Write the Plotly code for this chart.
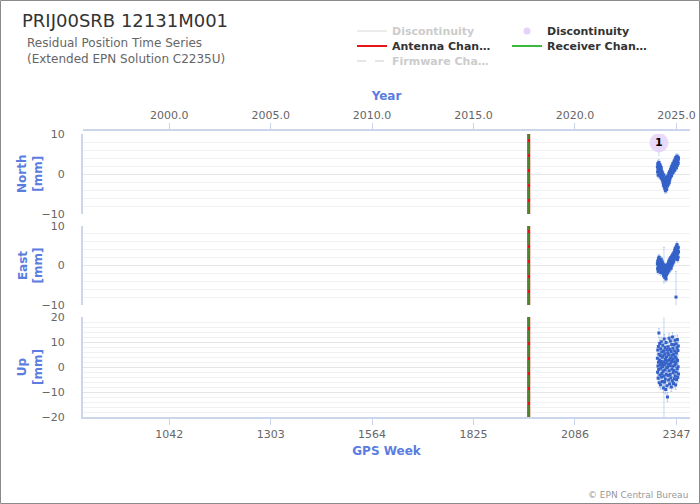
import plotly.graph_objects as go

# ---------------- data ----------------
gps_week_ticks = [1042, 1303, 1564, 1825, 2086, 2347]
year_tick_labels = ["2000.0", "2005.0", "2010.0", "2015.0", "2020.0", "2025.0"]

obs_weeks = [
    2298.0, 2298.5, 2299.0, 2299.5, 2300.0, 2300.5, 2301.0, 2301.5, 2302.0, 2302.5,
    2303.0, 2303.5, 2304.0, 2304.5, 2305.0, 2305.5, 2306.0, 2306.5, 2307.0, 2307.5,
    2308.0, 2308.5, 2309.0, 2309.5, 2310.0, 2310.5, 2311.0, 2311.5, 2312.0, 2312.5,
    2313.0, 2313.5, 2314.0, 2314.5, 2315.0, 2315.5, 2316.0, 2316.5, 2317.0, 2317.5,
    2318.0, 2318.5, 2319.0, 2319.5, 2320.0, 2320.5, 2321.0, 2321.5, 2322.0, 2322.5,
    2323.0, 2323.5, 2324.0, 2324.5, 2325.0, 2325.5, 2326.0, 2326.5, 2327.0, 2327.5,
    2328.0, 2328.5, 2329.0, 2329.5, 2330.0, 2330.5, 2331.0, 2331.5, 2332.0, 2332.5,
    2333.0, 2333.5, 2334.0, 2334.5, 2335.0, 2335.5, 2336.0, 2336.5, 2337.0, 2337.5,
    2338.0, 2338.5, 2339.0, 2339.5, 2340.0, 2340.5, 2341.0, 2341.5, 2342.0, 2342.5,
    2343.0, 2343.5, 2344.0, 2344.5, 2345.0, 2345.5, 2346.0, 2346.5, 2347.0, 2347.5,
    2348.0, 2348.5, 2349.0, 2349.5, 2350.0, 2350.5, 2351.0, 2351.5, 2352.0, 2352.5,
]

north_mm = [
    1.8, 0.5, 2.6, 1.2, -0.3, 2.1, 1.5, 0.8, 2.9, 1.0, 0.2, 1.7, 2.4, -0.5, 1.3,
    0.6, 2.0, 1.1, -0.8, 0.9, 1.6, 0.1, -1.2, 0.7, -0.4,
    -0.9, 0.3, -1.5, -0.6, -2.1, -1.0, -2.8, -1.7, -0.2, -2.4, -3.1, -1.3, -2.0, -3.6, -2.5,
    -1.1, -4.2, -2.9, -1.8, -3.3, -2.2, -0.8, -2.7, -3.9, -1.6, -2.3, -1.0, -3.0, -1.9, -0.5,
    -1.4, -2.6, -0.7, -1.8, 0.2, -1.1, -2.2, -0.3, 0.6, -1.5, -0.9, 0.4, -0.2, 1.1, -0.6,
    0.8, 1.5, 0.1, -0.4, 1.9, 0.7, 1.3, 2.2, 0.3, 1.0, 2.6, 1.6, 0.5, 2.0, 1.2,
    2.8, 1.7, 3.3, 2.1, 0.9, 3.0, 2.5, 3.8, 1.8, 2.9, 4.1, 2.4, 3.5, 1.5, 3.1,
    4.4, 2.7, 3.6, 2.2, 3.9, 4.2, 3.0, 2.6, 3.7, 4.0,
]

east_mm = [
    0.5, -0.8, 1.2, 0.1, -1.5, 0.9, 1.8, -0.4, 0.3, 2.1, -1.1, 0.7, -0.2, 1.4, -0.9,
    0.4, 1.0, -1.8, 0.2, 1.6, -0.6, 0.8, -1.3, 0.0, 1.1,
    -0.5, 0.6, -1.4, -0.2, -2.0, 0.3, -1.0, -2.6, -0.7, 0.1, -1.7, -2.2, -0.4, -3.0, -1.2,
    0.0, -1.9, -2.8, -0.9, -1.5, -3.4, -0.3, -2.4, -1.1, -0.6, -2.0, -1.3, 0.2, -1.7, -0.8,
    -1.0, 0.4, -0.5, 0.9, -1.4, 0.2, 1.3, -0.2, 0.7, -0.9, 1.6, 0.3, -0.4, 1.1, 2.0,
    0.5, -0.7, 1.4, 0.8, 2.3, 0.0, 1.7, 1.0, 2.6, 0.6, 1.9, 2.9, 1.2, 2.2, 0.9,
    2.5, 3.3, 1.6, 2.8, 3.9, 2.0, 3.1, 4.4, 2.6, 3.6, 1.8, -8.0, 3.0, 4.8, 2.3,
    3.4, 5.3, 2.9, 3.8, 1.5, 4.2, 3.2, 2.1, 4.6, 3.5,
]

up_mm = [
    3.5, -2.1, 6.8, 0.4, -4.5, 8.2, 1.9, -1.0, 13.6, 5.1, -6.3, 2.7, 9.4, -3.2, 0.8,
    4.6, -7.1, 7.3, -0.5, 2.2, 10.1, -4.0, 1.3, 6.0, -2.6,
    3.9, -5.8, 0.2, 8.7, -1.7, 4.4, -8.4, 2.0, 6.5, -3.7, 11.2, 0.9, -6.0, 5.3, -1.2,
    7.8, -4.9, 3.0, -9.0, 1.6, 9.8, -2.9, 4.1, -0.3, 6.9, -7.5, 2.5, -12.0, 0.0, 5.7,
    -3.4, 8.1, 1.1, -5.2, 4.8, 11.5, -1.5, 2.9, -6.8, 7.0, 0.6, -3.0, 10.4, 3.6, -4.3,
    1.8, 6.2, -8.0, 2.4, 9.0, -0.9, 4.7, -5.5, 12.0, 0.3, 7.5, -2.3, 3.3, -6.6, 5.0,
    -1.4, 8.9, 2.1, -4.7, 6.4, 0.7, 10.7, -3.6, 4.0, -7.2, 1.5, 9.3, -2.0, 5.6, -5.0,
    3.1, 7.7, -0.6, 11.0, 2.6, -4.1, 6.6, 0.1, 8.4, -2.8,
]

# formal errors (mm); a few epochs with large uncertainty
north_sigma = [0.7] * len(obs_weeks)
east_sigma = [0.7] * len(obs_weeks)
up_sigma = [1.8] * len(obs_weeks)
east_sigma[34] = 4.5
east_sigma[96] = 6.5
up_sigma[34] = 24.0

discontinuity_weeks = [2302.0]
discontinuity_north = [7.8]
discontinuity_labels = ["1"]

equipment_change_week = 1967.0

panel_ranges = {"North": [-10, 10], "East": [-10, 10], "Up": [-20, 20]}
x_range = [820, 2382]

# ---------------- layout helpers (pixel -> paper) ----------------
W, H = 700, 504
ML, MR, MT, MB = 83, 10, 130, 87
PW, PH = W - ML - MR, H - MT - MB


def px2x(px):
    return (px - ML) / PW


def py2y(py):
    return (H - MB - py) / PH


FONT = "DejaVu Sans"
BLUE_TITLE = "#5a7ddf"
AXIS_LINE = "#ccd6eb"
PT_COLOR = "#3562c8"
ERR_COLOR = "rgba(110,150,225,0.40)"

panel_px = {"North": (134, 214), "East": (226, 305), "Up": (317, 417)}

fig = go.Figure()

panels = [("North", north_mm, north_sigma, "y"),
          ("East", east_mm, east_sigma, "y2"),
          ("Up", up_mm, up_sigma, "y3")]

for name, vals, sig, yax in panels:
    fig.add_trace(go.Scatter(
        x=obs_weeks, y=vals, mode="markers", xaxis="x", yaxis=yax,
        marker=dict(symbol="square", size=3, color=PT_COLOR),
        error_y=dict(type="data", array=sig, color=ERR_COLOR, thickness=1, width=1),
        showlegend=False, hoverinfo="skip"))
    lo, hi = panel_ranges[name]
    # antenna change (red solid) and receiver change (green dashed)
    fig.add_trace(go.Scatter(
        x=[equipment_change_week, equipment_change_week], y=[lo, hi], mode="lines",
        xaxis="x", yaxis=yax, line=dict(color="#e8141c", width=3),
        showlegend=False, hoverinfo="skip"))
    fig.add_trace(go.Scatter(
        x=[equipment_change_week, equipment_change_week], y=[lo, hi], mode="lines",
        xaxis="x", yaxis=yax, line=dict(color="#4a8a2a", width=2, dash="12px,3px"),
        showlegend=False, hoverinfo="skip"))

# discontinuity marker
fig.add_trace(go.Scatter(
    x=discontinuity_weeks, y=discontinuity_north, mode="markers+text",
    text=discontinuity_labels, textposition="middle center",
    textfont=dict(family=FONT, size=11, color="#000000", weight="bold"),
    xaxis="x", yaxis="y",
    marker=dict(size=19, color="rgba(226,205,250,0.75)", line=dict(width=0)),
    error_y=dict(type="data", symmetric=False, array=[0], arrayminus=[3.3],
                 color=ERR_COLOR, thickness=1, width=0),
    showlegend=False, hoverinfo="skip"))

# dummy trace for top year axis
fig.add_trace(go.Scatter(x=[None], y=[None], xaxis="x2", yaxis="y",
                         showlegend=False, hoverinfo="skip"))

# legend entries (three rows -> three legends)
grey = "#cccccc"
fig.add_trace(go.Scatter(x=[None], y=[None], mode="lines", xaxis="x", yaxis="y",
                         name=f"<span style='color:{grey}'>Discontinuity</span>",
                         line=dict(color="#ececec", width=2), legend="legend"))
fig.add_trace(go.Scatter(x=[None], y=[None], mode="markers", xaxis="x", yaxis="y",
                         name="Discontinuity", legend="legend",
                         marker=dict(size=7, color="rgba(226,205,250,0.9)")))
fig.add_trace(go.Scatter(x=[None], y=[None], mode="lines", xaxis="x", yaxis="y",
                         name="Antenna Chan…", line=dict(color="#e8141c", width=2),
                         legend="legend2"))
fig.add_trace(go.Scatter(x=[None], y=[None], mode="lines", xaxis="x", yaxis="y",
                         name="Receiver Chan…", line=dict(color="#3cb93c", width=2),
                         legend="legend2"))
fig.add_trace(go.Scatter(x=[None], y=[None], mode="lines", xaxis="x", yaxis="y",
                         name=f"<span style='color:{grey}'>Firmware Cha…</span>",
                         line=dict(color="#e6e6e6", width=2, dash="dash"),
                         legend="legend3"))

tickfont = dict(family=FONT, size=11, color="#666666")
titlefont = dict(family=FONT, size=12, color=BLUE_TITLE, weight="bold")

yaxis_common = dict(
    showline=True, linecolor=AXIS_LINE, linewidth=2, ticks="", zeroline=False,
    showgrid=True, gridcolor="#e6e6e6", gridwidth=1, dtick=10, tick0=0,
    minor=dict(dtick=2, showgrid=True, gridcolor="#f1f1f1", gridwidth=1),
    tickfont=tickfont, anchor="x", fixedrange=True, ticklabelstandoff=14,
)


def legend_row(py):
    return dict(orientation="h", x=px2x(352), y=py2y(py), xanchor="left", yanchor="middle",
                entrywidth=110, entrywidthmode="pixels", itemwidth=30,
                font=dict(family=FONT, size=11, color="#333333", weight="bold"),
                bgcolor="rgba(0,0,0,0)")


annotations = [
    dict(text="PRIJ00SRB 12131M001", x=px2x(20), y=py2y(8), xref="paper", yref="paper",
         xanchor="left", yanchor="top", showarrow=False,
         font=dict(family=FONT, size=18, color="#333333")),
    dict(text="Residual Position Time Series<br>(Extended EPN Solution C2235U)",
         x=px2x(25), y=py2y(34), xref="paper", yref="paper", align="left",
         xanchor="left", yanchor="top", showarrow=False,
         font=dict(family=FONT, size=12, color="#666666")),
    dict(text="© EPN Central Bureau", x=px2x(690), y=py2y(502), xref="paper", yref="paper",
         xanchor="right", yanchor="bottom", showarrow=False,
         font=dict(family=FONT, size=9, color="#999999")),
]
for name in ["North", "East", "Up"]:
    top, bot = panel_px[name]
    annotations.append(dict(
        text=f"{name}<br>[mm]", x=px2x(30), y=py2y((top + bot) / 2), xref="paper",
        yref="paper", xanchor="center", yanchor="middle", textangle=-90,
        showarrow=False, font=titlefont))

fig.update_layout(
    width=W, height=H,
    margin=dict(l=ML, r=MR, t=MT, b=MB, autoexpand=False),
    paper_bgcolor="#ffffff", plot_bgcolor="#ffffff",
    font=dict(family=FONT, color="#333333"),
    xaxis=dict(range=x_range, anchor="y3", showgrid=False, zeroline=False,
               showline=True, linecolor=AXIS_LINE, linewidth=2,
               ticks="outside", ticklen=6, tickcolor=AXIS_LINE, tickwidth=1,
               tickvals=gps_week_ticks, ticktext=[str(v) for v in gps_week_ticks],
               tickfont=tickfont,
               title=dict(text="GPS Week", font=titlefont, standoff=6)),
    xaxis2=dict(range=x_range, overlaying="x", side="top", anchor="free", position=1.0,
                showgrid=False, zeroline=False,
                showline=True, linecolor=AXIS_LINE, linewidth=2,
                ticks="outside", ticklen=6, tickcolor=AXIS_LINE, tickwidth=1,
                tickvals=gps_week_ticks, ticktext=year_tick_labels, tickfont=tickfont,
                title=dict(text="Year", font=titlefont, standoff=4)),
    yaxis=dict(domain=[py2y(214), py2y(134)], range=panel_ranges["North"], **yaxis_common),
    yaxis2=dict(domain=[py2y(305), py2y(226)], range=panel_ranges["East"], **yaxis_common),
    yaxis3=dict(domain=[0, py2y(317)], range=panel_ranges["Up"], **yaxis_common),
    legend=legend_row(31),
    legend2=legend_row(46),
    legend3=legend_row(61),
    showlegend=True,
    annotations=annotations,
    shapes=[dict(type="rect", xref="paper", yref="paper",
                 x0=px2x(0.5), x1=px2x(699.5), y0=py2y(503.5), y1=py2y(0.5),
                 line=dict(color="#8a8a8a", width=1), layer="above")],
)

fig.write_html("out.html", config={"displayModeBar": False},
               post_script="document.body.style.margin='0px';document.body.style.overflow='hidden';")
